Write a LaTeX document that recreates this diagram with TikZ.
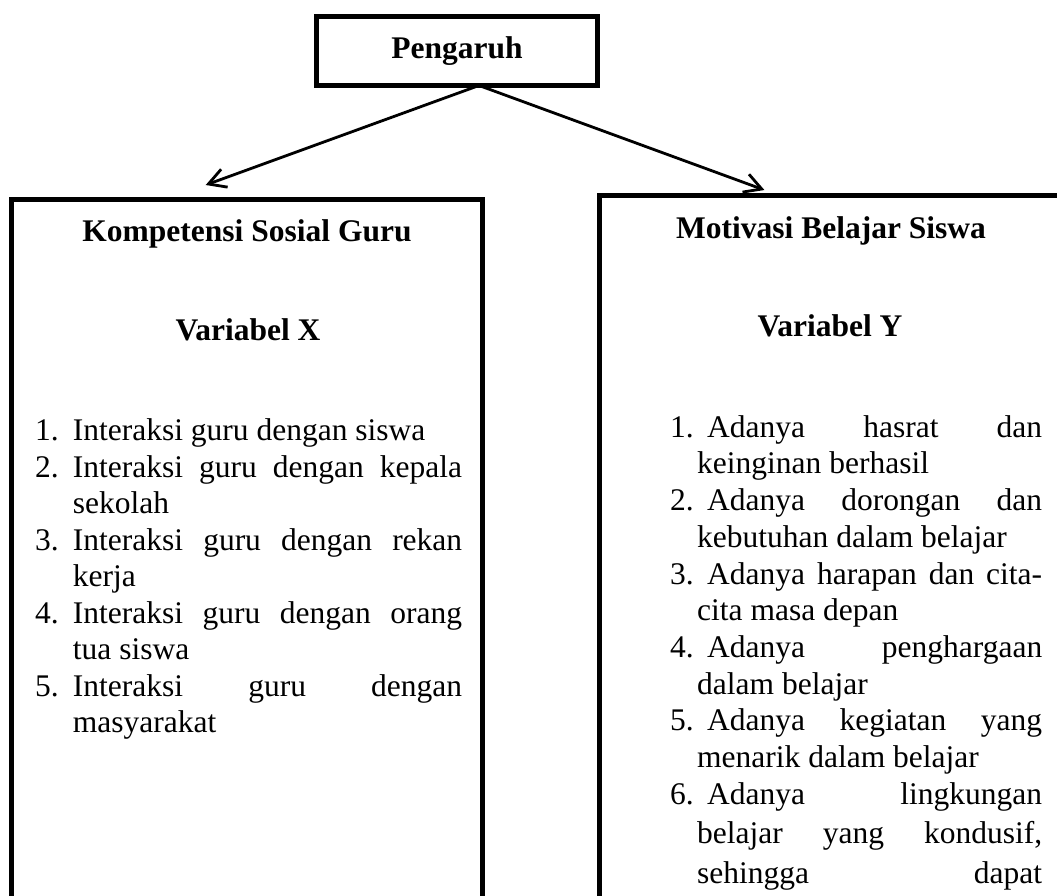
\documentclass[tikz,border=0pt]{standalone}
\usepackage{fontspec}
\setmainfont{Liberation Serif}
\usetikzlibrary{arrows.meta}
\newcommand\JL[4]{\hbox to #1{\vrule height25pt depth10pt width0pt\hbox to #2{#3\hfil}#4}}
\newcommand\NL[4]{\hbox to #1{\vrule height25pt depth10pt width0pt\hbox to #2{#3\hfil}#4\hfil}}
\tikzset{
  box/.style={draw=black, line width=5pt, rectangle, inner sep=0pt, outer sep=0pt},
  head/.style={font=\fontsize{31.5pt}{36.5pt}\selectfont\bfseries, anchor=base, inner sep=0pt},
  listL/.style={font=\fontsize{31.5pt}{36.5pt}\selectfont, anchor=north west, inner sep=0pt},
  listR/.style={font=\fontsize{31.5pt}{36.7pt}\selectfont, anchor=north west, inner sep=0pt},
  arr/.style={line width=2.8pt, -{Straight Barb[length=17pt,width=19pt]}},
}
\begin{document}
\begin{tikzpicture}[x=1pt,y=-1pt]
\fill[white] (0,0) rectangle (1057,895);
\useasboundingbox (0,0) rectangle (1057,895);
\node[box, minimum width=281pt, minimum height=69pt, font=\fontsize{31.5pt}{36.5pt}\selectfont\bfseries, text height=22pt, text depth=7pt] (peng) at (457,51) {Pengaruh};
\node[box, minimum width=471pt, minimum height=770pt, anchor=north] (kiri) at (247,199.5) {};
\node[box, minimum width=463pt, minimum height=770pt, anchor=north west] (kanan) at (599.5,195.5) {};
\node[head] (k1) at (247,241.7) {Kompetensi Sosial Guru};
\node[head] (k2) at (248,340.5) {Variabel X};
\node[head] (m1) at (831,238) {Motivasi Belajar Siswa};
\node[head] (m2) at (830,336.7) {Variabel Y};
\node[listL] (lx) at (35,415.7) {\vtop{%
\NL{427pt}{37.7pt}{1.}{Interaksi guru dengan siswa}%
\JL{427pt}{37.7pt}{2.}{Interaksi guru dengan kepala}%
\NL{427pt}{37.7pt}{}{sekolah}%
\JL{427pt}{37.7pt}{3.}{Interaksi guru dengan rekan}%
\NL{427pt}{37.7pt}{}{kerja}%
\JL{427pt}{37.7pt}{4.}{Interaksi guru dengan orang}%
\NL{427pt}{37.7pt}{}{tua siswa}%
\JL{427pt}{37.7pt}{5.}{Interaksi guru dengan}%
\NL{427pt}{37.7pt}{}{masyarakat}%
}};
\node[listR] (ly) at (670,412) {\vtop{%
\JL{372pt}{37pt}{1.}{Adanya hasrat dan}%
\NL{372pt}{27pt}{}{keinginan berhasil}%
\JL{372pt}{37pt}{2.}{Adanya dorongan dan}%
\NL{372pt}{27pt}{}{kebutuhan dalam belajar}%
\JL{372pt}{37pt}{3.}{Adanya harapan dan cita-}%
\NL{372pt}{27pt}{}{cita masa depan}%
\JL{372pt}{37pt}{4.}{Adanya penghargaan}%
\NL{372pt}{27pt}{}{dalam belajar}%
\JL{372pt}{37pt}{5.}{Adanya kegiatan yang}%
\NL{372pt}{27pt}{}{menarik dalam belajar}%
\JL{372pt}{37pt}{6.}{Adanya lingkungan}%
\vskip2.3pt
\JL{372pt}{27pt}{}{belajar yang kondusif,}%
\vskip3.3pt
\JL{372pt}{27pt}{}{sehingga dapat}%
}};
\coordinate (tipL) at (205.7,185);
\coordinate (tipR) at (764.4,190);
\draw[arr] ([xshift=22pt]peng.south) -- (tipL);
\draw[arr] ([xshift=22pt]peng.south) -- (tipR);
\end{tikzpicture}
\end{document}
